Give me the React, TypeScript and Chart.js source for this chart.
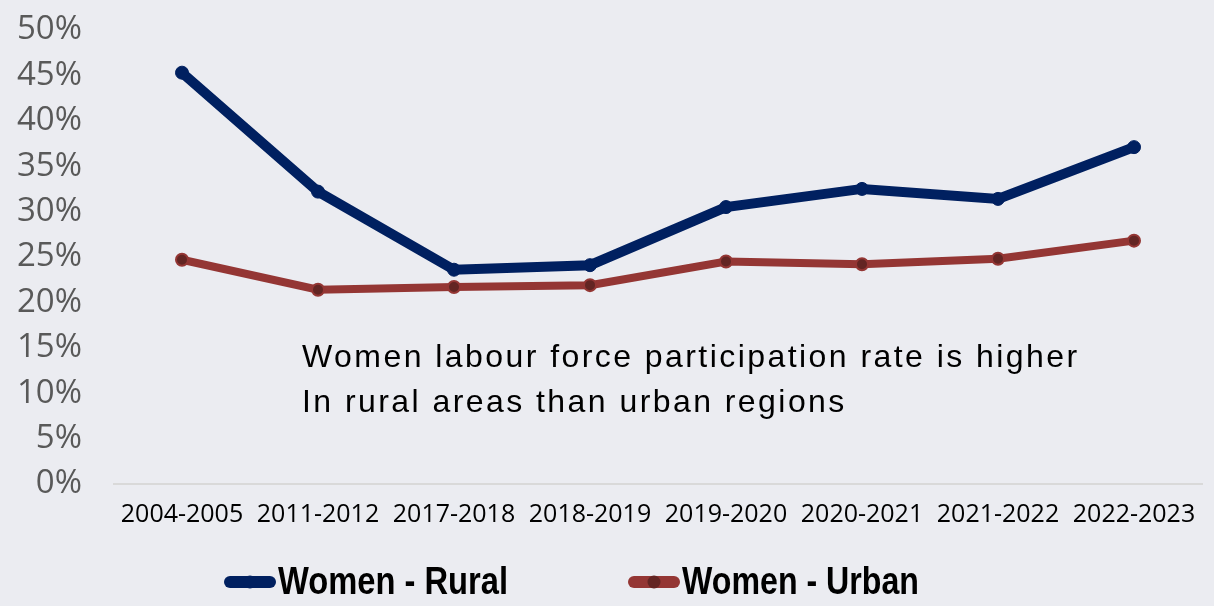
import React, { useEffect, useRef } from "react";
import { Chart, registerables } from "chart.js";

Chart.register(...registerables);

const categories = [
  "2004-2005",
  "2011-2012",
  "2017-2018",
  "2018-2019",
  "2019-2020",
  "2020-2021",
  "2021-2022",
  "2022-2023",
];
const ruralValues = [0.453, 0.322, 0.236, 0.241, 0.305, 0.325, 0.314, 0.371];
const urbanValues = [0.247, 0.214, 0.217, 0.219, 0.245, 0.242, 0.248, 0.268];
const seriesNames = ["Women - Rural", "Women - Urban"];
const noteLines = [
  "Women labour force participation rate is higher",
  "In rural areas than urban regions",
];

const RURAL = "#002060";
const URBAN = "#943634";
const URBAN_DOT = "#632523";
const BG = "#EBECF1";

const notePlugin = {
  id: "notePlugin",
  afterDraw(chart: any) {
    const ctx = chart.ctx as CanvasRenderingContext2D;
    const area = chart.chartArea;
    ctx.save();
    ctx.fillStyle = "#000000";
    ctx.textBaseline = "alphabetic";
    ctx.textAlign = "left";
    ctx.font = "32px 'Liberation Sans', Arial, sans-serif";
    const x0 = area.left + 188;
    const target = 775;
    (ctx as any).letterSpacing = "0px";
    const w = ctx.measureText(noteLines[0]).width;
    const spacing = (target - w) / (noteLines[0].length - 1);
    (ctx as any).letterSpacing = spacing.toFixed(2) + "px";
    ctx.fillText(noteLines[0], x0, area.top + 337);
    ctx.fillText(noteLines[1], x0, area.top + 382);
    ctx.restore();
  },
};

const legendPlugin = {
  id: "customLegend",
  afterDraw(chart: any) {
    const ctx = chart.ctx as CanvasRenderingContext2D;
    const items = [
      { name: seriesNames[0], color: RURAL, dot: RURAL, x: 224, textW: 230 },
      { name: seriesNames[1], color: URBAN, dot: URBAN_DOT, x: 628, textW: 237 },
    ];
    const y = 582;
    ctx.save();
    items.forEach((it) => {
      ctx.strokeStyle = it.color;
      ctx.lineWidth = 12;
      ctx.lineCap = "round";
      ctx.beginPath();
      ctx.moveTo(it.x + 6, y);
      ctx.lineTo(it.x + 46, y);
      ctx.stroke();
      ctx.fillStyle = it.dot;
      ctx.beginPath();
      ctx.arc(it.x + 26, y, 6.5, 0, Math.PI * 2);
      ctx.fill();
      ctx.font = "bold 38px 'Liberation Sans Narrow', 'Liberation Sans', Arial, sans-serif";
      ctx.fillStyle = "#000000";
      ctx.textBaseline = "alphabetic";
      const tw = ctx.measureText(it.name).width;
      const sx = it.textW / tw;
      ctx.save();
      ctx.translate(it.x + 54, 594);
      ctx.scale(sx, 1);
      ctx.fillText(it.name, 0, 0);
      ctx.restore();
    });
    ctx.restore();
  },
};

export default function App() {
  const ref = useRef<HTMLCanvasElement | null>(null);

  useEffect(() => {
    document.body.style.margin = "0";
    document.body.style.background = BG;
    const canvas = ref.current;
    if (!canvas) return;
    const chart = new Chart(canvas, {
      type: "line",
      data: {
        labels: categories,
        datasets: [
          {
            label: seriesNames[0],
            data: ruralValues,
            borderColor: RURAL,
            backgroundColor: RURAL,
            borderWidth: 10,
            pointRadius: 6.5,
            pointBackgroundColor: RURAL,
            pointBorderColor: RURAL,
            pointBorderWidth: 1,
            tension: 0,
          },
          {
            label: seriesNames[1],
            data: urbanValues,
            borderColor: URBAN,
            backgroundColor: URBAN,
            borderWidth: 8,
            pointRadius: 6,
            pointBackgroundColor: URBAN_DOT,
            pointBorderColor: URBAN,
            pointBorderWidth: 2,
            tension: 0,
          },
        ],
      },
      options: {
        responsive: false,
        animation: false,
        layout: { padding: { top: 30, right: 12, left: 0, bottom: 0 } },
        plugins: {
          legend: { display: false },
          tooltip: { enabled: false },
        },
        scales: {
          x: {
            offset: true,
            grid: { display: false, drawTicks: false },
            border: { display: true, color: "#D9D9D9", width: 2 },
            ticks: {
              color: "#000000",
              font: { family: "'Open Sans', sans-serif", size: 25 },
              padding: 16,
              maxRotation: 0,
              autoSkip: false,
            },
            afterFit: (s: any) => {
              s.height = 122;
              s.paddingLeft = 0;
              s.paddingRight = 0;
            },
          },
          y: {
            min: 0,
            max: 0.5,
            grid: { display: false, drawTicks: false },
            border: { display: false },
            ticks: {
              stepSize: 0.05,
              color: "#595959",
              font: { family: "'Open Sans', sans-serif", size: 33 },
              padding: 32,
              callback: (v: any) => Math.round(Number(v) * 100) + "%",
            },
            afterFit: (s: any) => {
              s.width = 114;
              s.paddingTop = 0;
              s.paddingBottom = 0;
            },
          },
        },
      },
      plugins: [notePlugin, legendPlugin],
    });
    return () => chart.destroy();
  }, []);

  return (
    <div style={{ width: 1214, height: 606, background: BG }}>
      <canvas ref={ref} width={1214} height={606} />
    </div>
  );
}
